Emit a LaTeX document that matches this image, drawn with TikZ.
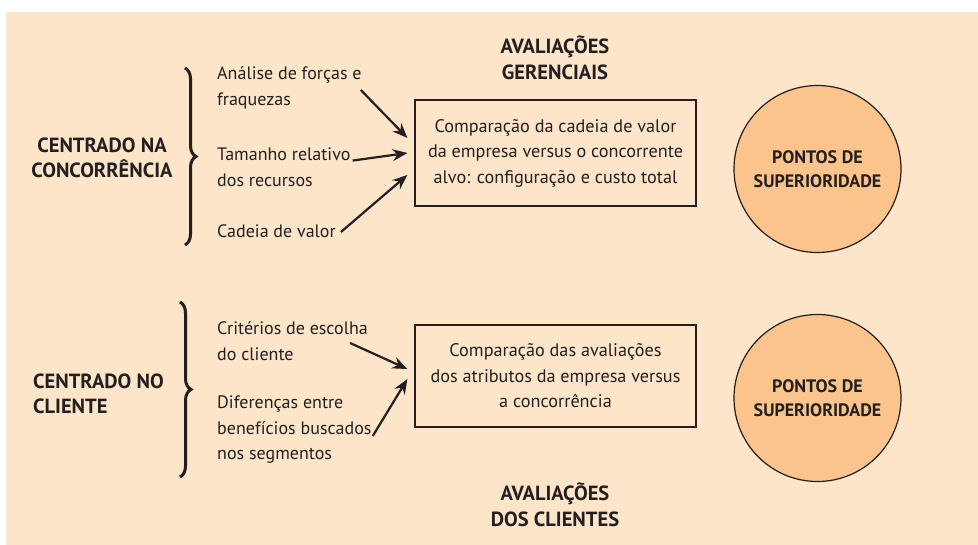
\documentclass[tikz,border=0pt]{standalone}
\usepackage{fontspec}
\setmainfont{PT Sans}
\usepackage{tikz}
\usetikzlibrary{arrows.meta,decorations.pathreplacing}
\definecolor{peach}{RGB}{253,229,201}
\definecolor{orangefill}{RGB}{251,196,140}
\definecolor{ink}{RGB}{35,31,32}
\tikzstyle{arrow}=[-{Stealth[length=15pt,width=12pt,inset=5pt]},line width=2.2pt,draw=ink]
\tikzstyle{label}=[inner sep=0pt,align=left,anchor=west,text=ink,
  font=\fontsize{18}{25.5}\selectfont]
\tikzstyle{heading}=[inner sep=0pt,align=center,text=ink,
  font=\bfseries\fontsize{20.5}{25.5}\selectfont]
\tikzstyle{compbox}=[rectangle,draw=ink,line width=1.2pt,minimum width=281pt,
  inner sep=0pt,align=center,text=ink,font=\fontsize{18.2}{25.5}\selectfont]
\tikzstyle{superior}=[circle,draw=ink,line width=1.2pt,fill=orangefill,
  minimum size=167pt,inner sep=0pt,align=center,text=ink,
  font=\bfseries\fontsize{18}{24}\selectfont]
\tikzstyle{bracket}=[draw=ink,line width=3pt,decorate,
  decoration={brace,amplitude=11pt}]

\begin{document}
\begin{tikzpicture}[x=1pt,y=-1pt]
  \useasboundingbox (0,0) rectangle (978,545);
  \fill[peach] (6,12) rectangle (978,545);

  % headings
  \node[heading] (gerenciais) at (555,58) {AVALIAÇÕES\\GERENCIAIS};
  \node[heading] (clientes) at (555,505) {AVALIAÇÕES\\DOS CLIENTES};
  \node[heading] (concorr) at (102,158) {CENTRADO NA\\CONCORRÊNCIA};
  \node[heading,align=left,anchor=west] (cliente) at (33,394) {CENTRADO NO\\CLIENTE};

  % braces
  \draw[bracket] (185,68) -- (185,245);
  \draw[bracket] (180,302) -- (180,477);

  % competitor side
  \node[label] (forcas) at (217,88) {Análise de forças e\\fraquezas};
  \node[label] (tamanho) at (217,167) {Tamanho relativo\\dos recursos};
  \node[label] (cadeia) at (217,231) {Cadeia de valor};
  \node[compbox,minimum height=106pt] (cmpA) at (555.5,153)
    {Comparação da cadeia de valor\\da empresa versus o concorrente\\alvo: configuração e custo total};
  \node[superior] (pontosA) at (817.5,169) {PONTOS DE\\SUPERIORIDADE};

  % customer side
  \node[label] (criterios) at (217,341) {Critérios de escolha\\do cliente};
  \node[label] (diferencas) at (217,430) {Diferenças entre\\benefícios buscados\\nos segmentos};
  \node[compbox,minimum height=102pt] (cmpB) at (555.5,376)
    {Comparação das avaliações\\dos atributos da empresa versus\\a concorrência};
  \node[superior] (pontosB) at (817.5,398) {PONTOS DE\\SUPERIORIDADE};

  % arrows
  \draw[arrow] ([xshift=-1pt,yshift=-2pt]forcas.east) -- ([xshift=-7pt,yshift=15pt]cmpA.west);
  \draw[arrow] ([xshift=2pt,yshift=-13pt]tamanho.north east) -- ([xshift=-7pt]cmpA.west);
  \draw[arrow] ([xshift=5pt,yshift=-1pt]cadeia.east) -- ([xshift=-7pt,yshift=-22pt]cmpA.west);
  \draw[arrow] ([xshift=-18pt,yshift=-2pt]criterios.east) -- ([xshift=-7pt,yshift=7pt]cmpB.west);
  \draw[arrow] ([xshift=1pt,yshift=-6pt]diferencas.east) -- ([xshift=-7pt,yshift=-3pt]cmpB.west);
\end{tikzpicture}
\end{document}
